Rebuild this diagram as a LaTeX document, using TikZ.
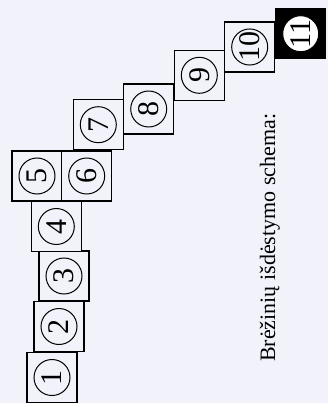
\documentclass[tikz,border=0pt]{standalone}
\usepackage{fontspec}
\setmainfont{Liberation Serif}
\usetikzlibrary{positioning}
\definecolor{paper}{RGB}{241,242,250}
\tikzset{
  sheet/.style={
    draw,
    line width=1.1pt,
    minimum size=50pt,
    inner sep=0pt,
    fill=paper
  },
  num/.style={
    shape=circle,
    draw,
    line width=1pt,
    minimum size=36pt,
    inner sep=0pt,
    rotate=90,
    font=\fontsize{30}{30}\selectfont
  },
  title/.style={
    rotate=90,
    anchor=base west,
    inner sep=0pt,
    font=\fontsize{22}{22}\selectfont
  }
}
\begin{document}
\begin{tikzpicture}[x=1pt,y=-1pt]
  \useasboundingbox[fill=paper] (0,0) rectangle (328,403);
  % sheets 1..10
  \foreach \n/\x/\y in {1/52/377.5,2/59/326.5,3/64/276,4/56.3/226.5,5/37/176,
                        6/86.7/176,7/98.3/124.7,8/148.7/109,9/199.3/75.3,10/249.7/47}{
    \node[sheet] (s\n) at (\x,\y) {};
    \node[num] (c\n) at (s\n.center) {\n};
  }
  % last sheet, black
  \node[sheet,fill=black] (s11) at (300.7,33.7) {};
  \node[num,fill=white] (c11) at (s11.center) {11};
  \node[title] (t) at (275,362) {Brėžinių išdėstymo schema:};
\end{tikzpicture}
\end{document}
